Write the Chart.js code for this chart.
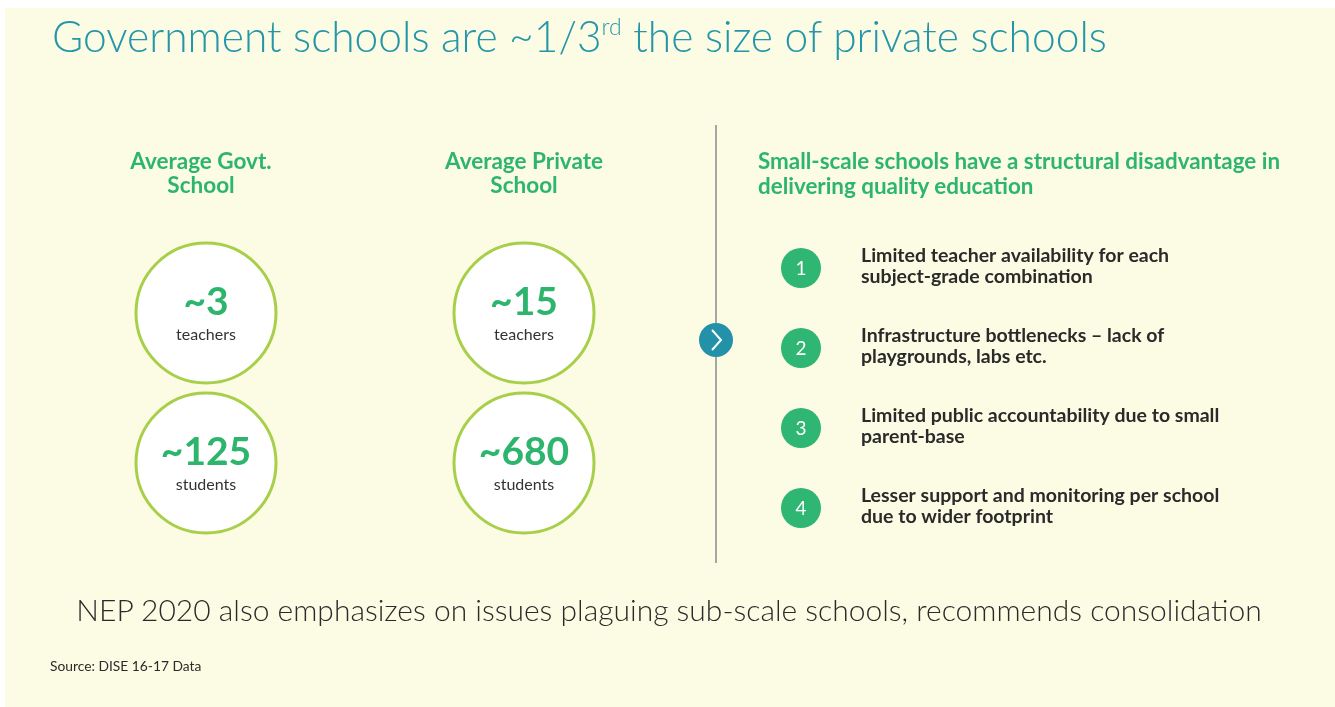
<!DOCTYPE html>
<html>
<head>
<meta charset="utf-8">
<title>Government vs private school size</title>
<script src="https://cdn.jsdelivr.net/npm/chart.js@4.4.0/dist/chart.umd.min.js"></script>
<style>
  body { margin: 0; width: 1335px; height: 707px; background: #fff; overflow: hidden; position: relative; font-family: Lato, "Open Sans", sans-serif; }
  #page { position: absolute; left: 5px; top: 8px; right: 0; bottom: 0; background: #FCFCE4; }
  canvas { position: absolute; top: 0; }
  #left { left: 0; }
  #right { left: 730px; }
  .txt { position: absolute; white-space: nowrap; margin: 0; }
  #title { left: 52px; top: 15px; font-size: 42.5px; line-height: 42px; font-weight: 300; color: #2596A8; }
  #title sup { font-size: 23px; vertical-align: 0; position: relative; top: -17px; }
  #rhead { left: 758px; top: 148px; font-size: 22.4px; line-height: 25px; font-weight: 700; color: #2DB56E; }
  #footer { left: 0; width: 1338px; text-align: center; top: 595px; font-size: 30px; line-height: 28px; font-weight: 300; color: #2a2a2a; }
  #source { left: 50px; top: 659px; font-size: 13.8px; line-height: 13px; color: #2a2a2a; }
  #divider { position: absolute; left: 715px; top: 125px; width: 2px; height: 438px; background: #A6A6A6; }
  #arrow { position: absolute; left: 699px; top: 323px; width: 34px; height: 34px; border-radius: 50%; background: #2391A7; }
</style>
</head>
<body>
<div id="page"></div>
<div id="divider"></div>
<div id="arrow"><svg width="34" height="34"><polyline points="13,7 22,17 13,27" fill="none" stroke="#fff" stroke-width="2"/></svg></div>
<canvas id="left" width="730" height="707"></canvas>
<canvas id="right" width="605" height="707"></canvas>
<h1 class="txt" id="title">Government schools are ~1/3<sup>rd</sup> the size of private schools</h1>
<div class="txt" id="rhead">Small-scale schools have a structural disadvantage in<br>delivering quality education</div>
<div class="txt" id="footer">NEP 2020 also emphasizes on issues plaguing sub-scale schools, recommends consolidation</div>
<div class="txt" id="source">Source: DISE 16-17 Data</div>
<script>
// data
const schoolHeads = [["Average Govt.", "School"], ["Average Private", "School"]];
const schoolTypes = schoolHeads.map(h => h.join(" "));
const metrics = ["teachers", "students"];
const teachers = [3, 15];
const students = [125, 680];
const issues = [
  ["Limited teacher availability for each", "subject-grade combination"],
  ["Infrastructure bottlenecks \u2013 lack of", "playgrounds, labs etc."],
  ["Limited public accountability due to small", "parent-base"],
  ["Lesser support and monitoring per school", "due to wider footprint"]
];
const issueLabels = issues.map(l => l.join(" "));

const GREEN = "#2DB56E";

// points for the stat circles
let statPoints = [];
for (let i = 0; i < schoolTypes.length; i++) {
  statPoints.push({ x: schoolTypes[i], y: "teachers", v: teachers[i] });
  statPoints.push({ x: schoolTypes[i], y: "students", v: students[i] });
}

const circleLabels = {
  id: "circleLabels",
  afterDatasetsDraw(chart) {
    const ctx = chart.ctx;
    const xs = chart.scales.x;
    ctx.save();
    ctx.textAlign = "center";
    ctx.textBaseline = "alphabetic";
    ctx.fillStyle = GREEN;
    ctx.font = "bold 22.5px Lato";
    schoolHeads.forEach((lines, i) => {
      let x = xs.getPixelForValue(i) - (i === 0 ? 5 : 0);
      lines.forEach((t, k) => ctx.fillText(t, x, 169 + k * 24));
    });
    chart.getDatasetMeta(0).data.forEach((pt, k) => {
      let raw = chart.data.datasets[0].data[k];
      ctx.fillStyle = GREEN;
      ctx.font = "bold 39px Lato";
      ctx.fillText("~" + raw.v, pt.x, pt.y + 2);
      ctx.fillStyle = "#333";
      ctx.font = "16px Lato";
      ctx.fillText(raw.y, pt.x, pt.y + 27);
    });
    ctx.restore();
  }
};

new Chart(document.getElementById("left"), {
  type: "scatter",
  data: {
    datasets: [{
      data: statPoints,
      pointRadius: 70,
      pointHoverRadius: 70,
      backgroundColor: "#ffffff",
      borderColor: "#A8CF4A",
      borderWidth: 3,
      clip: false
    }]
  },
  options: {
    responsive: false,
    animation: false,
    events: [],
    layout: { autoPadding: false, padding: { left: 47, right: 47, top: 238, bottom: 169 } },
    scales: {
      x: { type: "category", labels: schoolTypes, offset: true, display: false },
      y: { type: "category", labels: metrics, offset: true, display: false }
    },
    plugins: { legend: { display: false }, tooltip: { enabled: false } }
  },
  plugins: [circleLabels]
});

const issueText = {
  id: "issueText",
  afterDatasetsDraw(chart) {
    const ctx = chart.ctx;
    ctx.save();
    chart.getDatasetMeta(0).data.forEach((pt, k) => {
      ctx.fillStyle = "#fff";
      ctx.font = "19px Lato";
      ctx.textAlign = "center";
      ctx.textBaseline = "middle";
      ctx.fillText(String(k + 1), pt.x, pt.y + 1);
      ctx.fillStyle = "#2a2a2a";
      ctx.font = "bold 19.5px Lato";
      ctx.textAlign = "left";
      ctx.textBaseline = "alphabetic";
      issues[k].forEach((line, j) => {
        ctx.fillText(line, pt.x + 60, pt.y - 6 + j * 21);
      });
    });
    ctx.restore();
  }
};

new Chart(document.getElementById("right"), {
  type: "scatter",
  data: {
    datasets: [{
      data: issueLabels.map(l => ({ x: "issues", y: l })),
      pointRadius: 20,
      pointHoverRadius: 20,
      backgroundColor: "#2EB672",
      borderWidth: 0,
      clip: false
    }]
  },
  options: {
    responsive: false,
    animation: false,
    events: [],
    layout: { autoPadding: false, padding: { left: 0, right: 463, top: 228, bottom: 159 } },
    scales: {
      x: { type: "category", labels: ["issues"], offset: true, display: false },
      y: { type: "category", labels: issueLabels, offset: true, display: false }
    },
    plugins: { legend: { display: false }, tooltip: { enabled: false } }
  },
  plugins: [issueText]
});
</script>
</body>
</html>
